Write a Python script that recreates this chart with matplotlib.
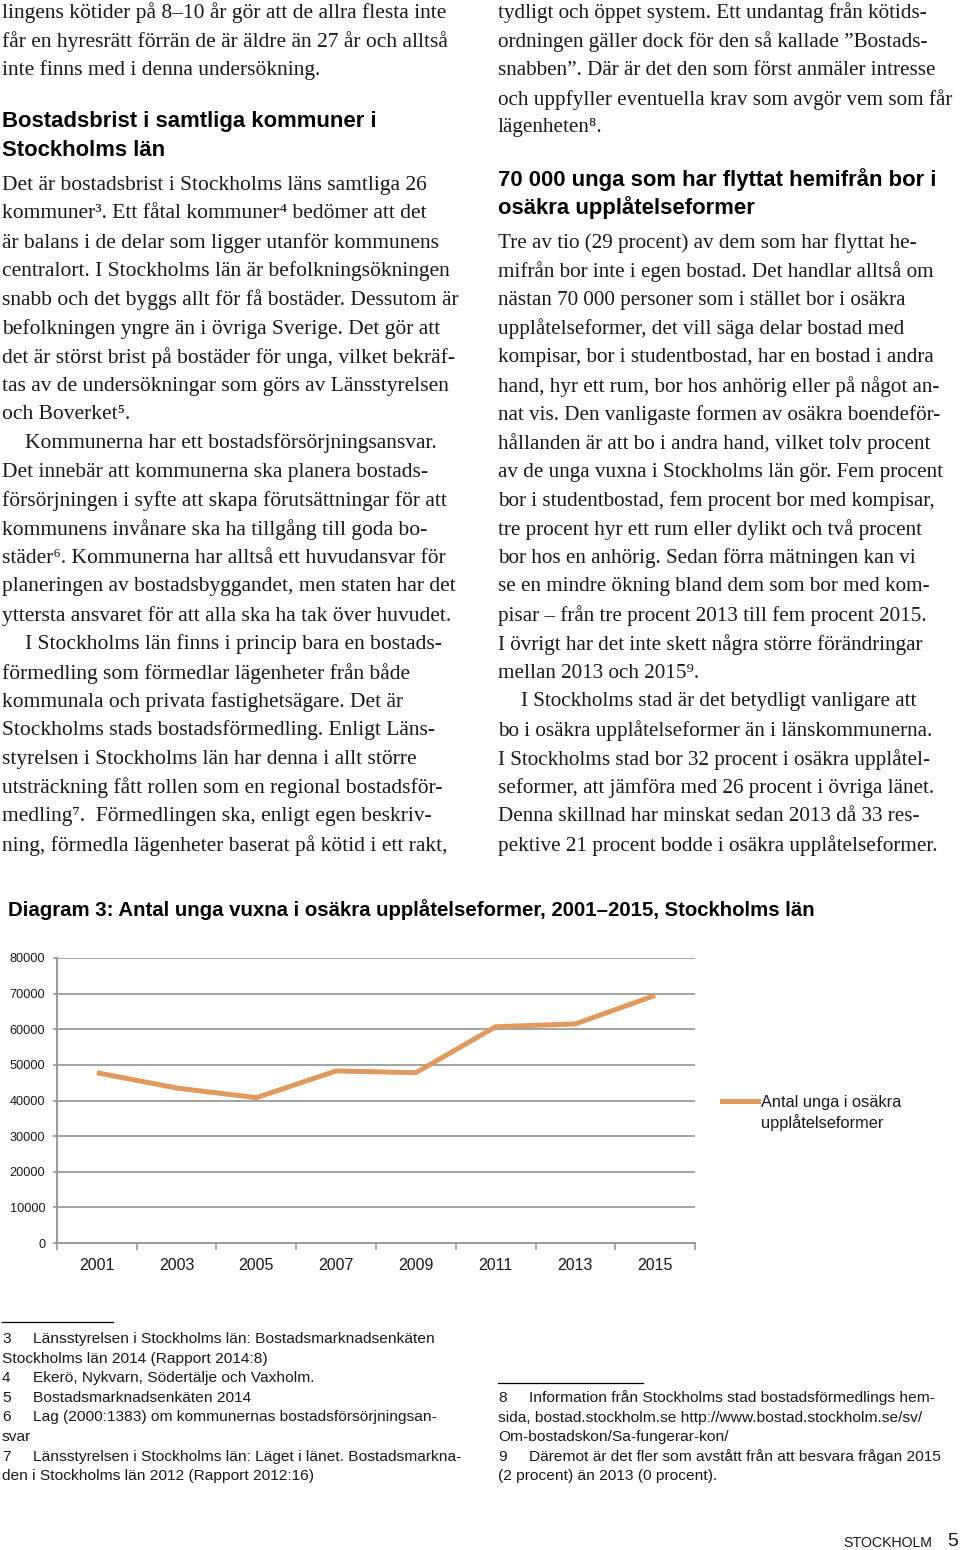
import matplotlib
matplotlib.use('Agg')
import matplotlib.pyplot as plt
from matplotlib.lines import Line2D

# ---------------- data ----------------
years = ['2001', '2003', '2005', '2007', '2009', '2011', '2013', '2015']
values = [47800, 43500, 40800, 48300, 47800, 60700, 61500, 69500]
y_ticks = [0, 10000, 20000, 30000, 40000, 50000, 60000, 70000, 80000]
series_label = ['Antal unga i osäkra', 'upplåtelseformer']
chart_title = 'Diagram 3: Antal unga vuxna i osäkra upplåtelseformer, 2001–2015, Stockholms län'

left_top = [
    'lingens kötider på 8–10 år gör att de allra flesta inte',
    'får en hyresrätt förrän de är äldre än 27 år och alltså',
    'inte finns med i denna undersökning.',
]
left_heading = ['Bostadsbrist i samtliga kommuner i', 'Stockholms län']
left_body = [
    'Det är bostadsbrist i Stockholms läns samtliga 26',
    'kommuner³. Ett fåtal kommuner⁴ bedömer att det',
    'är balans i de delar som ligger utanför kommunens',
    'centralort. I Stockholms län är befolkningsökningen',
    'snabb och det byggs allt för få bostäder. Dessutom är',
    'befolkningen yngre än i övriga Sverige. Det gör att',
    'det är störst brist på bostäder för unga, vilket bekräf-',
    'tas av de undersökningar som görs av Länsstyrelsen',
    'och Boverket⁵.',
    '>Kommunerna har ett bostadsförsörjningsansvar.',
    'Det innebär att kommunerna ska planera bostads-',
    'försörjningen i syfte att skapa förutsättningar för att',
    'kommunens invånare ska ha tillgång till goda bo-',
    'städer⁶. Kommunerna har alltså ett huvudansvar för',
    'planeringen av bostadsbyggandet, men staten har det',
    'yttersta ansvaret för att alla ska ha tak över huvudet.',
    '>I Stockholms län finns i princip bara en bostads-',
    'förmedling som förmedlar lägenheter från både',
    'kommunala och privata fastighetsägare. Det är',
    'Stockholms stads bostadsförmedling. Enligt Läns-',
    'styrelsen i Stockholms län har denna i allt större',
    'utsträckning fått rollen som en regional bostadsför-',
    'medling⁷.  Förmedlingen ska, enligt egen beskriv-',
    'ning, förmedla lägenheter baserat på kötid i ett rakt,',
]
right_top = [
    'tydligt och öppet system. Ett undantag från kötids-',
    'ordningen gäller dock för den så kallade ”Bostads-',
    'snabben”. Där är det den som först anmäler intresse',
    'och uppfyller eventuella krav som avgör vem som får',
    'lägenheten⁸.',
]
right_heading = ['70 000 unga som har flyttat hemifrån bor i', 'osäkra upplåtelseformer']
right_body = [
    'Tre av tio (29 procent) av dem som har flyttat he-',
    'mifrån bor inte i egen bostad. Det handlar alltså om',
    'nästan 70 000 personer som i stället bor i osäkra',
    'upplåtelseformer, det vill säga delar bostad med',
    'kompisar, bor i studentbostad, har en bostad i andra',
    'hand, hyr ett rum, bor hos anhörig eller på något an-',
    'nat vis. Den vanligaste formen av osäkra boendeför-',
    'hållanden är att bo i andra hand, vilket tolv procent',
    'av de unga vuxna i Stockholms län gör. Fem procent',
    'bor i studentbostad, fem procent bor med kompisar,',
    'tre procent hyr ett rum eller dylikt och två procent',
    'bor hos en anhörig. Sedan förra mätningen kan vi',
    'se en mindre ökning bland dem som bor med kom-',
    'pisar – från tre procent 2013 till fem procent 2015.',
    'I övrigt har det inte skett några större förändringar',
    'mellan 2013 och 2015⁹.',
    '>I Stockholms stad är det betydligt vanligare att',
    'bo i osäkra upplåtelseformer än i länskommunerna.',
    'I Stockholms stad bor 32 procent i osäkra upplåtel-',
    'seformer, att jämföra med 26 procent i övriga länet.',
    'Denna skillnad har minskat sedan 2013 då 33 res-',
    'pektive 21 procent bodde i osäkra upplåtelseformer.',
]
left_notes = [
    ('3', 'Länsstyrelsen i Stockholms län: Bostadsmarknadsenkäten'),
    ('', 'Stockholms län 2014 (Rapport 2014:8)'),
    ('4', 'Ekerö, Nykvarn, Södertälje och Vaxholm.'),
    ('5', 'Bostadsmarknadsenkäten 2014'),
    ('6', 'Lag (2000:1383) om kommunernas bostadsförsörjningsan-'),
    ('', 'svar'),
    ('7', 'Länsstyrelsen i Stockholms län: Läget i länet. Bostadsmarkna-'),
    ('', 'den i Stockholms län 2012 (Rapport 2012:16)'),
]
right_notes = [
    ('8', 'Information från Stockholms stad bostadsförmedlings hem-'),
    ('', 'sida, bostad.stockholm.se http://www.bostad.stockholm.se/sv/'),
    ('', 'Om-bostadskon/Sa-fungerar-kon/'),
    ('9', 'Däremot är det fler som avstått från att besvara frågan 2015'),
    ('', '(2 procent) än 2013 (0 procent).'),
]

# ---------------- layout ----------------
W, H = 960, 1550
fig = plt.figure(figsize=(W / 100, H / 100), dpi=100)
fig.patch.set_facecolor('white')

SERIF = ['Liberation Serif', 'DejaVu Serif']
SANS = ['Liberation Sans', 'DejaVu Sans']
TXT = '#1a1a1a'
ORANGE = '#E09A5E'


def fx(x):
    return x / W


def fy(y):
    return 1 - y / H


LINE = 28.7
Y0 = 13


def body_lines(lines, x0, start_index, size):
    for i, t in enumerate(lines):
        x = x0
        if t.startswith('>'):
            t = t[1:]
            x = x0 + 23
        y = Y0 + (start_index + i) * LINE
        fig.text(fx(x), fy(y), t, family=SERIF, fontsize=size,
                 color=TXT, va='center', ha='left')


body_lines(left_top, 2, 0, 15.5)
body_lines(left_body, 2, 6, 15.5)
body_lines(right_top, 498, 0, 15.2)
body_lines(right_body, 498, 8, 15.2)

HEAD_SIZE = 15.9
for t, y in zip(left_heading, [122, 151]):
    fig.text(fx(2), fy(y), t, family=SANS, fontsize=HEAD_SIZE, weight='bold',
             color='black', va='center', ha='left')
for t, y in zip(right_heading, [180, 208]):
    fig.text(fx(498), fy(y), t, family=SANS, fontsize=HEAD_SIZE, weight='bold',
             color='black', va='center', ha='left')

# chart title
fig.text(fx(8), fy(910), chart_title, family=SANS, fontsize=14.65,
         weight='bold', color='black', va='center', ha='left')

# ---------------- chart ----------------
ax_l, ax_r, ax_t, ax_b = 57, 695, 958, 1243
ax = fig.add_axes([fx(ax_l), fy(ax_b), (ax_r - ax_l) / W, (ax_b - ax_t) / H])
x = list(range(len(years)))
ax.plot(x, values, color=ORANGE, lw=3.6, solid_capstyle='butt',
        solid_joinstyle='round', zorder=3)
ax.set_xlim(-0.5, len(years) - 0.5)
ax.set_ylim(0, 80000)
ax.set_yticks(y_ticks)
ax.set_yticklabels([str(v) for v in y_ticks], family=SANS, fontsize=9.2,
                   color=TXT)
ax.set_xticks(x)
ax.set_xticklabels(years, family=SANS, fontsize=11.5, color=TXT)
ax.set_xticks([i - 0.5 for i in range(len(years) + 1)], minor=True)
ax.tick_params(axis='x', which='major', length=0, pad=11)
ax.tick_params(axis='x', which='minor', length=5, color='#9a9a9a', width=1.2)
ax.tick_params(axis='y', length=3, color='#9a9a9a', width=1.2, pad=5.5)
ax.grid(axis='y', color='#a3a3a3', lw=1.4)
ax.set_axisbelow(True)
for s in ['top', 'right']:
    ax.spines[s].set_visible(False)
for s in ['left', 'bottom']:
    ax.spines[s].set_color('#9a9a9a')
    ax.spines[s].set_linewidth(1.4)

# legend (drawn beside the plot)
fig.add_artist(Line2D([fx(722), fx(758)], [fy(1101), fy(1101)],
                      color=ORANGE, lw=3.6, transform=fig.transFigure))
fig.text(fx(761), fy(1103), series_label[0], family=SANS, fontsize=11.8,
         color=TXT, va='center', ha='left')
fig.text(fx(761), fy(1123), series_label[1], family=SANS, fontsize=11.8,
         color=TXT, va='center', ha='left')

# ---------------- footnotes ----------------
NOTE_SIZE = 11.15
fig.add_artist(Line2D([fx(2), fx(113)], [fy(1322), fy(1322)], color='black',
                      lw=0.9, transform=fig.transFigure))
fig.add_artist(Line2D([fx(498), fx(643)], [fy(1383), fy(1383)], color='black',
                      lw=0.9, transform=fig.transFigure))


def notes(items, x0, y_start):
    for i, (num, t) in enumerate(items):
        y = y_start + i * 19.6
        if num:
            fig.text(fx(x0), fy(y), num, family=SANS, fontsize=NOTE_SIZE,
                     color=TXT, va='center', ha='left')
            fig.text(fx(x0 + 31), fy(y), t, family=SANS, fontsize=NOTE_SIZE,
                     color=TXT, va='center', ha='left')
        else:
            fig.text(fx(x0), fy(y), t, family=SANS, fontsize=NOTE_SIZE,
                     color=TXT, va='center', ha='left')


notes(left_notes, 2, 1339)
notes(right_notes, 498, 1398)

fig.text(fx(932), fy(1543), 'STOCKHOLM', family=SANS, fontsize=10.2,
         color=TXT, va='center', ha='right')
fig.text(fx(958), fy(1541), '5', family=SANS, fontsize=14,
         color=TXT, va='center', ha='right')

fig.savefig('out.png', dpi=100, facecolor='white')
